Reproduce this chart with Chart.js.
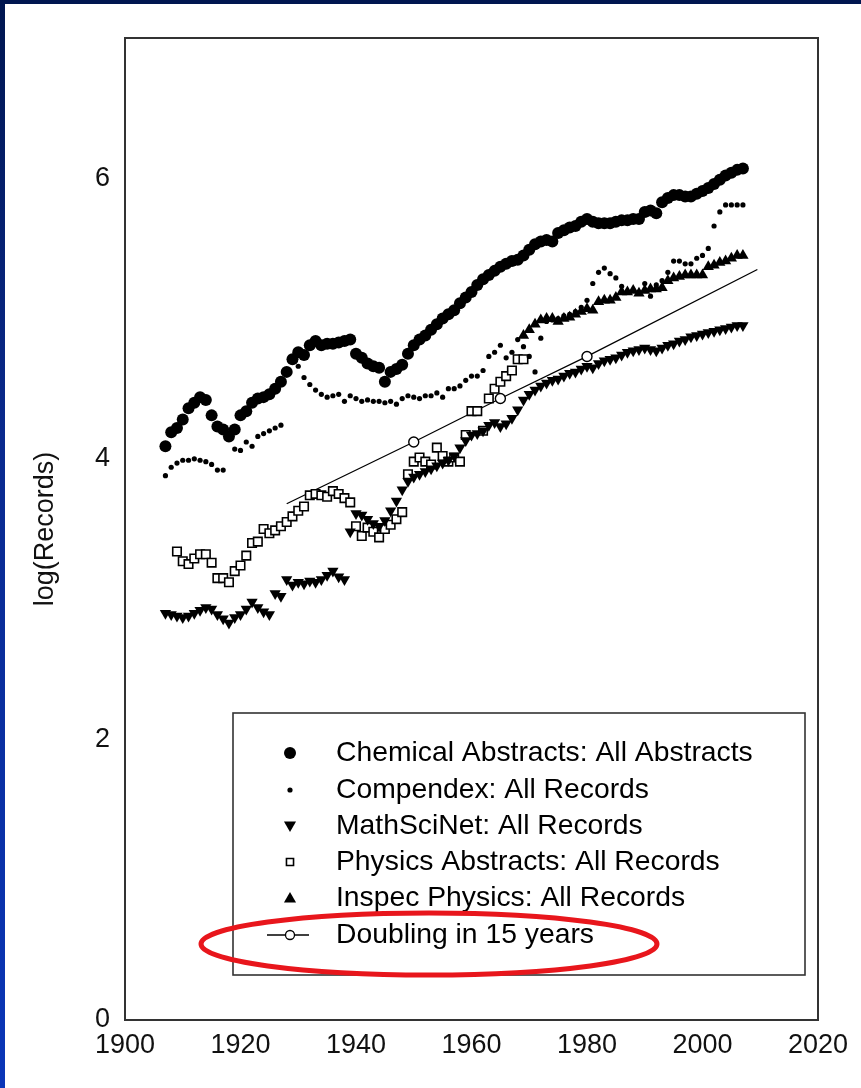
<!DOCTYPE html>
<html>
<head>
<meta charset="utf-8">
<script src="https://cdn.jsdelivr.net/npm/chart.js@4.4.0/dist/chart.umd.min.js"></script>
<style>
  html, body { margin: 0; padding: 0; background: #fff; }
  #wrap { position: relative; width: 861px; height: 1088px; overflow: hidden; background: #fff; }
  #topbar { position: absolute; left: 0; top: 0; width: 861px; height: 4px; background: #001650; }
  #leftbar { position: absolute; left: 0; top: 0; width: 5px; height: 1088px;
             background: linear-gradient(to bottom, #001650 0%, #0a2a8e 40%, #0a36b8 100%); }
  canvas { position: absolute; left: 0; top: 0; }
</style>
</head>
<body>
<div id="wrap">
  <canvas id="chart" width="861" height="1088"></canvas>
  <div id="topbar"></div>
  <div id="leftbar"></div>
</div>
<script>
// values, one per year
const chemStart = 1907;
const chemValues = [
  4.09, 4.19, 4.22, 4.28, 4.36, 4.40, 4.44, 4.42, 4.31, 4.23,
  4.21, 4.16, 4.21, 4.31, 4.34, 4.40, 4.43, 4.44, 4.46, 4.50,
  4.55, 4.62, 4.71, 4.76, 4.74, 4.81, 4.84, 4.81, 4.82, 4.82,
  4.83, 4.84, 4.85, 4.75, 4.72, 4.68, 4.66, 4.65, 4.55, 4.62,
  4.64, 4.67, 4.75, 4.81, 4.85, 4.88, 4.92, 4.96, 5.00, 5.03,
  5.06, 5.11, 5.15, 5.19, 5.24, 5.28, 5.31, 5.34, 5.37, 5.39,
  5.41, 5.42, 5.45, 5.49, 5.53, 5.55, 5.56, 5.55, 5.61, 5.63,
  5.65, 5.66, 5.69, 5.71, 5.69, 5.68, 5.68, 5.68, 5.69, 5.70,
  5.70, 5.71, 5.71, 5.76, 5.77, 5.75, 5.83, 5.86, 5.88, 5.88,
  5.87, 5.87, 5.89, 5.91, 5.93, 5.96, 5.99, 6.02, 6.04, 6.06,
  6.07
];

const compStart = 1907;
const compValues = [
  3.88, 3.94, 3.97, 3.99, 3.99, 4.00, 3.99, 3.98, 3.96, 3.92,
  3.92, null, 4.07, 4.06, 4.12, 4.09, 4.16, 4.18, 4.20, 4.22,
  4.24, null, null, 4.66, 4.58, 4.53, 4.49, 4.46, 4.44, 4.45,
  4.46, 4.41, 4.45, 4.43, 4.41, 4.42, 4.41, 4.41, 4.40, 4.41,
  4.39, 4.43, 4.45, 4.44, 4.43, 4.45, 4.45, 4.47, 4.44, 4.50,
  4.50, 4.52, 4.56, 4.59, 4.59, 4.63, 4.73, 4.76, 4.81, 4.72,
  4.76, 4.85, 4.80, 4.73, 4.62, 4.86, 4.98, 4.99, 5.00, 5.02,
  5.03, 5.05, 5.08, 5.13, 5.25, 5.33, 5.36, 5.32, 5.29, 5.23,
  5.19, 5.20, 5.18, 5.25, 5.16, 5.24, 5.27, 5.33, 5.41, 5.41,
  5.39, 5.39, 5.43, 5.45, 5.50, 5.66, 5.76, 5.81, 5.81, 5.81,
  5.81
];

const mathStart = 1907;
const mathValues = [
  2.90, 2.89, 2.88, 2.87, 2.88, 2.90, 2.92, 2.94, 2.93, 2.89,
  2.86, 2.83, 2.87, 2.89, 2.93, 2.98, 2.94, 2.91, 2.89, 3.04,
  3.02, 3.14, 3.10, 3.12, 3.11, 3.13, 3.12, 3.14, 3.17, 3.20,
  3.16, 3.14, 3.48, 3.61, 3.60, 3.57, 3.54, 3.52, 3.56, 3.63,
  3.70, 3.78, 3.84, 3.87, 3.89, 3.91, 3.93, 3.95, 3.97, 3.99,
  4.02, 4.08, 4.13, 4.17, 4.18, 4.20, 4.24, 4.26, 4.23, 4.25,
  4.29, 4.35, 4.42, 4.46, 4.49, 4.52, 4.54, 4.56, 4.57, 4.59,
  4.61, 4.62, 4.64, 4.66, 4.65, 4.68, 4.70, 4.71, 4.72, 4.74,
  4.76, 4.77, 4.78, 4.79, 4.78, 4.77, 4.79, 4.81, 4.82, 4.84,
  4.85, 4.87, 4.88, 4.89, 4.90, 4.91, 4.92, 4.93, 4.94, 4.95,
  4.95
];

const physStart = 1909;
const physValues = [
  3.34, 3.27, 3.25, 3.29, 3.32, 3.32, 3.26, 3.15, 3.15, 3.12,
  3.20, 3.24, 3.31, 3.40, 3.41, 3.50, 3.47, 3.49, 3.52, 3.55,
  3.59, 3.63, 3.66, 3.74, 3.75, 3.74, 3.73, 3.77, 3.75, 3.72,
  3.69, 3.52, 3.45, 3.51, 3.48, 3.44, 3.50, 3.53, 3.57, 3.62,
  3.89, 3.98, 4.01, 3.98, 3.96, 4.08, 4.02, 3.98, 4.01, 3.98,
  4.17, 4.34, 4.34, 4.20, 4.43, 4.50, 4.55, 4.59, 4.63, 4.71,
  4.71
];

const inspecStart = 1969;
const inspecValues = [
  4.88, 4.92, 4.96, 4.99, 5.00, 5.00, 4.98, 5.00, 5.01, 5.03,
  5.05, 5.07, 5.06, 5.12, 5.13, 5.13, 5.15, 5.19, 5.19, 5.20,
  5.18, 5.20, 5.21, 5.21, 5.22, 5.27, 5.29, 5.30, 5.31, 5.31,
  5.31, 5.31, 5.37, 5.38, 5.40, 5.41, 5.43, 5.45, 5.45
];

const doublingYears = [1928, 1950, 1965, 1980, 2009.5];
const doublingValues = [3.68, 4.12, 4.43, 4.73, 5.35];
const doublingMarks = [0, 5, 5, 5, 0];

const xTicks = [1900, 1920, 1940, 1960, 1980, 2000, 2020];
const yTicks = [0, 2, 4, 6];

const labels = [
  'Chemical Abstracts: All Abstracts',
  'Compendex: All Records',
  'MathSciNet: All Records',
  'Physics Abstracts: All Records',
  'Inspec Physics: All Records',
  'Doubling in 15 years'
];

const FONT = '"Liberation Sans", Arial, Helvetica, sans-serif';

const toPoints = (start, vals) =>
  vals.map((v, i) => ({ x: start + i, y: v })).filter(p => p.y !== null);

const dot = (label, data, style) => Object.assign({
  label: label,
  data: data,
  showLine: false,
  backgroundColor: '#000',
  borderColor: '#000',
  borderWidth: 0,
  pointHoverRadius: 0
}, style);

const legendBox = {
  id: 'legendBox',
  afterDatasetsDraw(chart) {
    const ctx = chart.ctx;
    ctx.save();
    // box
    ctx.fillStyle = '#fff';
    ctx.fillRect(233, 713, 572, 262);
    ctx.strokeStyle = '#333';
    ctx.lineWidth = 1.6;
    ctx.strokeRect(233, 713, 572, 262);

    const rows = [753, 790, 826, 862, 898, 935];
    const mx = 290, tx = 336;
    ctx.font = '28.3px ' + FONT;
    ctx.textBaseline = 'middle';
    chart.data.datasets.forEach((ds, i) => {
      const y = rows[i];
      ctx.fillStyle = ds.backgroundColor;
      ctx.strokeStyle = ds.borderColor;
      ctx.lineWidth = ds.borderWidth || 1;
      if (i === 5) {
        ctx.beginPath();
        ctx.moveTo(mx - 23, y);
        ctx.lineTo(mx + 19, y);
        ctx.lineWidth = 1.3;
        ctx.strokeStyle = '#000';
        ctx.stroke();
        ctx.fillStyle = '#fff';
        Chart.helpers.drawPoint(ctx, { pointStyle: 'circle', radius: 4.5, borderWidth: 1.5, rotation: 0 }, mx, y);
      } else {
        const r = [6, 2.6, 7, 5, 7][i];
        Chart.helpers.drawPoint(ctx, {
          pointStyle: ds.pointStyle,
          radius: r,
          rotation: ds.rotation || 0,
          borderWidth: ds.borderWidth
        }, mx, i === 2 ? y - 1 : (i === 4 ? y + 1 : y));
      }
      ctx.fillStyle = '#000';
      ctx.fillText(ds.label, tx, y);
    });

    // red ring round the last entry
    ctx.beginPath();
    ctx.ellipse(429, 944, 228, 31, 0, 0, Math.PI * 2);
    ctx.strokeStyle = '#e8161c';
    ctx.lineWidth = 5;
    ctx.stroke();
    ctx.restore();
  }
};

const frame = {
  id: 'frame',
  afterDraw(chart) {
    const a = chart.chartArea;
    const ctx = chart.ctx;
    ctx.save();
    ctx.strokeStyle = '#333';
    ctx.lineWidth = 2;
    ctx.strokeRect(a.left, a.top, a.right - a.left, a.bottom - a.top);
    ctx.restore();
  }
};

new Chart(document.getElementById('chart'), {
  type: 'scatter',
  data: {
    datasets: [
      dot(labels[0], toPoints(chemStart, chemValues), { pointStyle: 'circle', pointRadius: 6 }),
      dot(labels[1], toPoints(compStart, compValues), { pointStyle: 'circle', pointRadius: 2.6 }),
      dot(labels[2], toPoints(mathStart, mathValues), { pointStyle: 'triangle', pointRotation: 180, rotation: 180, pointRadius: 6.5 }),
      dot(labels[3], toPoints(physStart, physValues), { pointStyle: 'rect', pointRadius: 6, backgroundColor: '#fff', borderWidth: 1.6 }),
      dot(labels[4], toPoints(inspecStart, inspecValues), { pointStyle: 'triangle', pointRadius: 6.5 }),
      {
        label: labels[5],
        data: doublingYears.map((yr, i) => ({ x: yr, y: doublingValues[i] })),
        showLine: true,
        borderColor: '#000',
        borderWidth: 1.3,
        backgroundColor: '#fff',
        pointStyle: 'circle',
        pointRadius: doublingMarks,
        pointBorderWidth: 1.4,
        pointHoverRadius: 0
      }
    ]
  },
  options: {
    responsive: false,
    animation: false,
    events: [],
    layout: { padding: { top: 38, right: 43, left: 0, bottom: 0 } },
    plugins: {
      legend: { display: false },
      tooltip: { enabled: false }
    },
    scales: {
      x: {
        type: 'linear',
        min: 1900,
        max: 2020,
        grid: { display: false, drawTicks: false },
        border: { display: false },
        afterBuildTicks: s => { s.ticks = xTicks.map(v => ({ value: v })); },
        afterFit: s => { s.height = 68; },
        ticks: {
          color: '#111',
          padding: 9,
          maxRotation: 0,
          font: { family: FONT, size: 27 },
          callback: v => String(v)
        }
      },
      y: {
        min: 0,
        max: 7,
        grid: { display: false, drawTicks: false },
        border: { display: false },
        afterBuildTicks: s => { s.ticks = yTicks.map(v => ({ value: v })); },
        afterFit: s => { s.width = 125; },
        title: {
          display: true,
          text: 'log(Records)',
          color: '#111',
          padding: { top: 29, bottom: 0 },
          font: { family: FONT, size: 27 }
        },
        ticks: {
          color: '#111',
          padding: 15,
          font: { family: FONT, size: 27 }
        }
      }
    }
  },
  plugins: [legendBox, frame]
});
</script>
</body>
</html>
